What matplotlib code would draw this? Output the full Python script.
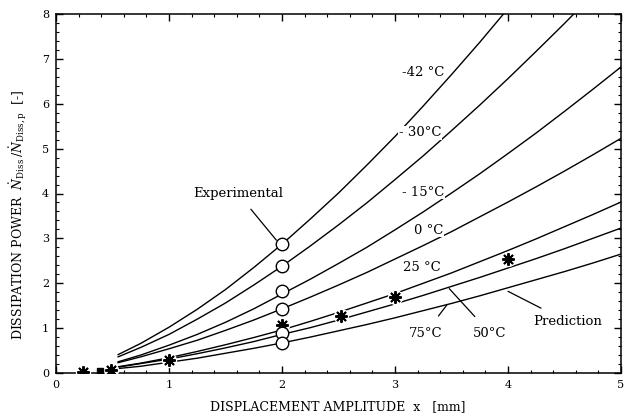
import matplotlib
matplotlib.use("Agg")
import matplotlib.pyplot as plt
from matplotlib.ticker import MultipleLocator

plt.rcParams['font.family'] = ['DejaVu Serif']
plt.rcParams['mathtext.fontset'] = 'dejavuserif'

# displacement amplitude grid [mm]
amp = [0.55, 0.75, 1.0, 1.25, 1.5, 1.75, 2.0, 2.25, 2.5, 2.75, 3.0, 3.25,
       3.5, 3.75, 4.0, 4.25, 4.5, 4.75, 5.0]

# predicted dissipation power curves
t_m42 = [0.41, 0.66, 1.02, 1.42, 1.86, 2.35, 2.87, 3.43, 4.01, 4.63, 5.27, 5.95,
         6.65, 7.37, 8.12]
t_m30 = [0.36, 0.57, 0.86, 1.20, 1.56, 1.96, 2.38, 2.83, 3.30, 3.79, 4.31, 4.84,
         5.40, 5.97, 6.56, 7.17, 7.79, 8.43]
t_m15 = [0.25, 0.40, 0.62, 0.86, 1.13, 1.43, 1.76, 2.09, 2.44, 2.80, 3.19, 3.59,
         4.01, 4.44, 4.89, 5.35, 5.83, 6.32, 6.82]
t_0 = [0.23, 0.36, 0.54, 0.73, 0.95, 1.18, 1.43, 1.69, 1.96, 2.24, 2.54, 2.84,
       3.15, 3.48, 3.81, 4.15, 4.50, 4.86, 5.23]
t_25 = [0.14, 0.22, 0.34, 0.48, 0.63, 0.79, 0.96, 1.15, 1.35, 1.56, 1.77, 2.00,
        2.23, 2.48, 2.73, 2.99, 3.26, 3.53, 3.81]
t_50 = [0.13, 0.21, 0.31, 0.43, 0.56, 0.70, 0.86, 1.01, 1.18, 1.36, 1.54, 1.73,
        1.93, 2.13, 2.34, 2.55, 2.77, 3.00, 3.23]
t_75 = [0.10, 0.15, 0.24, 0.33, 0.44, 0.55, 0.67, 0.80, 0.94, 1.08, 1.23, 1.39,
        1.55, 1.72, 1.90, 2.08, 2.26, 2.45, 2.65]
curves = [t_m42, t_m30, t_m15, t_0, t_25, t_50, t_75]

# experimental points
circ_x = [2, 2, 2, 2, 2, 2]
circ_y = [2.87, 2.38, 1.83, 1.43, 0.89, 0.67]
star_x = [0.24, 0.49, 1.0, 2.0, 2.52, 3.0, 4.0]
star_y = [0.03, 0.07, 0.29, 1.07, 1.28, 1.70, 2.55]
sq_x = [0.39]
sq_y = [0.05]

# curve labels
lab_text = ["-42 \u00b0C", "- 30\u00b0C", "- 15\u00b0C", "0 \u00b0C", "25 \u00b0C"]
lab_x = [3.25, 3.22, 3.25, 3.30, 3.24]
lab_y = [6.70, 5.35, 4.03, 3.18, 2.36]

fig = plt.figure(figsize=(6.27, 4.20), dpi=100)
ax = fig.add_axes([56 / 627, 1 - 373 / 420, (621 - 56) / 627, (373 - 14) / 420])

for c in curves:
    ax.plot(amp[:len(c)], c, color='black', lw=1.0, zorder=2, clip_on=True)

# white halos to break lines around star markers
ax.plot(star_x, star_y, linestyle='none', marker='o', ms=11, mfc='white',
        mec='none', zorder=3)
ax.plot(star_x, star_y, linestyle='none', marker=(8, 2, 0), ms=9, mec='black',
        mew=1.4, zorder=4)
ax.plot(circ_x, circ_y, linestyle='none', marker='o', ms=9, mfc='white',
        mec='black', mew=1.0, zorder=4)
ax.plot(sq_x, sq_y, linestyle='none', marker='s', ms=5, color='black', zorder=4)

bb = dict(boxstyle='square,pad=0.05', fc='white', ec='none')
for t, x, y in zip(lab_text, lab_x, lab_y):
    ax.text(x, y, t, ha='center', va='center', fontsize=9.5, bbox=bb, zorder=5)

# annotations
ax.annotate("Experimental", xy=(1.95, 2.96), xytext=(1.61, 4.0),
            ha='center', va='center', fontsize=9.5,
            arrowprops=dict(arrowstyle='-', color='black', lw=0.9,
                            shrinkA=6, shrinkB=0))
ax.annotate("Prediction", xy=(4.0, 1.82), xytext=(4.53, 1.14),
            ha='center', va='center', fontsize=9.5,
            arrowprops=dict(arrowstyle='-', color='black', lw=0.9,
                            shrinkA=7, shrinkB=0))
ax.annotate("50\u00b0C", xy=(3.48, 1.88), xytext=(3.84, 0.89),
            ha='center', va='center', fontsize=9.5,
            arrowprops=dict(arrowstyle='-', color='black', lw=0.9,
                            shrinkA=7, shrinkB=0))
ax.annotate("75\u00b0C", xy=(3.46, 1.52), xytext=(3.27, 0.89),
            ha='center', va='center', fontsize=9.5,
            arrowprops=dict(arrowstyle='-', color='black', lw=0.9,
                            shrinkA=7, shrinkB=0))

ax.set_xlim(0, 5)
ax.set_ylim(0, 8)
ax.xaxis.set_major_locator(MultipleLocator(1))
ax.xaxis.set_minor_locator(MultipleLocator(0.2))
ax.yaxis.set_major_locator(MultipleLocator(1))
ax.yaxis.set_minor_locator(MultipleLocator(0.2))
ax.tick_params(which='both', direction='in', top=True, right=True)
ax.tick_params(which='major', length=5, width=1.0, labelsize=8, pad=5)
ax.tick_params(which='minor', length=2.5, width=0.8)
for s in ax.spines.values():
    s.set_linewidth(1.1)

fig.text(338 / 627, 1 - 407 / 420, "DISPLACEMENT AMPLITUDE  x   [mm]",
         ha='center', va='center', fontsize=9)
fig.text(18 / 627, 1 - 215 / 420,
         r"DISSIPATION POWER  $\dot{N}_{\rm Diss}\,/\dot{N}_{\rm Diss,p}$  [-]",
         ha='center', va='center', rotation=90, fontsize=9)

fig.savefig("out.png", dpi=100)
